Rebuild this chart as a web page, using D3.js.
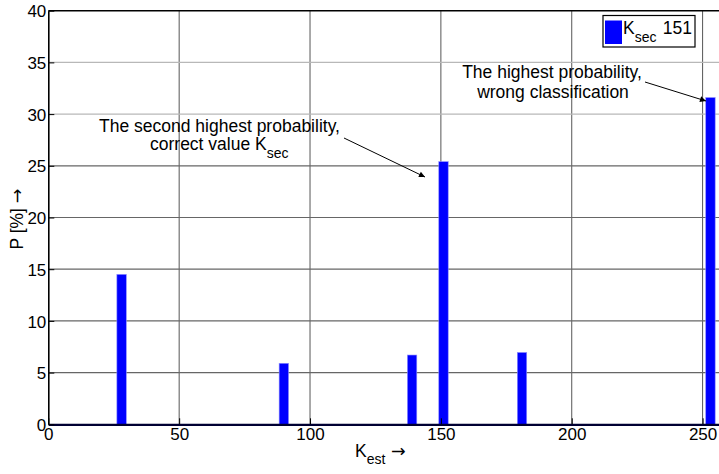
<!DOCTYPE html>
<html>
    <head>
        <meta charset="utf-8">
        <title>K_est histogram</title>
        <script type="text/javascript" src="https://d3js.org/d3.v7.min.js"></script>
        <style>
            body { margin: 0; background: #fff; }
            text { font-family: "Liberation Sans", Arial, Helvetica, sans-serif; fill: #000; }
            .arr { font-family: "DejaVu Sans", sans-serif; }
        </style>
    </head>
    <body>
        <script type="text/javascript">
            // data
            let kValues = [28, 90, 139, 151, 181, 253];
            let pValues = [14.5, 5.9, 6.7, 25.4, 6.95, 31.6];
            let xTicks = [0, 50, 100, 150, 200, 250];
            let yTicks = [0, 5, 10, 15, 20, 25, 30, 35, 40];
            let legendLabel = ['K', 'sec', '151'];

            let width = 719;
            let height = 474;
            let plotLeft = 48.3, plotTop = 10.7, plotBottom = 424.3;
            let barWidth = 3.6;
            let fs = 17.5;

            let svg = d3.select('body')
                .append('svg')
                .attr('width', width)
                .attr('height', height);

            let x = d3.scaleLinear().domain([0, 260]).range([plotLeft, plotLeft + 260 * 2.6172]);
            let y = d3.scaleLinear().domain([0, 40]).range([plotBottom, plotTop]);

            // grid
            svg.append('g').selectAll('line')
                .data(xTicks.slice(1))
                .enter()
                .append('line')
                    .attr('x1', d => x(d)).attr('x2', d => x(d))
                    .attr('y1', plotTop).attr('y2', plotBottom)
                    .attr('stroke', '#555')
                    .attr('stroke-width', 1);

            svg.append('g').selectAll('line')
                .data(yTicks.slice(1, -1))
                .enter()
                .append('line')
                    .attr('x1', plotLeft).attr('x2', width)
                    .attr('y1', d => y(d)).attr('y2', d => y(d))
                    .attr('stroke', d => d >= 30 ? '#b8b8b8' : '#666')
                    .attr('stroke-width', 1.2);

            // bars
            svg.append('g').selectAll('rect')
                .data(kValues)
                .enter()
                .append('rect')
                    .attr('x', d => x(d - barWidth / 2))
                    .attr('y', (d, i) => y(pValues[i]))
                    .attr('width', x(barWidth) - x(0))
                    .attr('height', (d, i) => y(0) - y(pValues[i]))
                    .attr('fill', '#0000ff')
                    .attr('stroke', '#8f8fff')
                    .attr('stroke-width', 0.6);

            // axes
            let xAxis = svg.append('g')
                .attr('transform', `translate(0,${plotBottom})`)
                .call(d3.axisBottom(x).tickValues(xTicks).tickSizeInner(-6).tickSizeOuter(0).tickPadding(4));
            xAxis.select('.domain').attr('stroke', '#000033').attr('stroke-width', 2.2);
            xAxis.selectAll('text').attr('font-size', 17).style('font-family', '"Liberation Sans", Arial, sans-serif');

            let yAxis = svg.append('g')
                .attr('transform', `translate(${plotLeft},0)`)
                .call(d3.axisLeft(y).tickValues(yTicks).tickSizeInner(-6).tickSizeOuter(0).tickPadding(2));
            yAxis.select('.domain').attr('stroke', '#000').attr('stroke-width', 1.6);
            yAxis.selectAll('text').attr('font-size', 17).attr('dy', '0.36em').style('font-family', '"Liberation Sans", Arial, sans-serif');

            svg.append('line')
                .attr('x1', plotLeft).attr('x2', width)
                .attr('y1', plotTop).attr('y2', plotTop)
                .attr('stroke', '#000').attr('stroke-width', 1.4);

            // axis labels
            let xl = svg.append('text')
                .attr('x', 355).attr('y', 457)
                .attr('font-size', fs);
            xl.append('tspan').text('K');
            xl.append('tspan').attr('dy', 7).attr('font-size', 14).text('est');
            xl.append('tspan').attr('dy', -7).attr('class', 'arr').text(' \u2192');

            let yl = svg.append('text')
                .attr('transform', 'translate(23,219) rotate(-90)')
                .attr('text-anchor', 'middle')
                .attr('font-size', fs);
            yl.append('tspan').text('P [%] ');
            yl.append('tspan').attr('class', 'arr').text('\u2192');

            // legend
            svg.append('rect')
                .attr('x', 603).attr('y', 15.5).attr('width', 92).attr('height', 31.5)
                .attr('fill', '#fff').attr('stroke', '#000').attr('stroke-width', 1.2);
            svg.append('rect')
                .attr('x', 605).attr('y', 20.5).attr('width', 17).attr('height', 23.5)
                .attr('fill', '#0000ff');
            let lg = svg.append('text')
                .attr('x', 623).attr('y', 34)
                .attr('font-size', fs);
            lg.append('tspan').text(legendLabel[0]);
            lg.append('tspan').attr('dy', 8).attr('font-size', 14).text(legendLabel[1]);
            svg.append('text')
                .attr('x', 692).attr('y', 34)
                .attr('text-anchor', 'end')
                .attr('font-size', fs)
                .text(legendLabel[2]);

            // annotations
            svg.append('defs').append('marker')
                .attr('id', 'arrow')
                .attr('viewBox', '0 0 10 10')
                .attr('refX', 10).attr('refY', 5)
                .attr('markerWidth', 9).attr('markerHeight', 6)
                .attr('markerUnits', 'userSpaceOnUse')
                .attr('orient', 'auto')
                .append('path')
                    .attr('d', 'M0,0L10,5L0,10z')
                    .attr('fill', '#000');

            let a1 = svg.append('text')
                .attr('text-anchor', 'middle')
                .attr('font-size', fs);
            a1.append('tspan').attr('x', 552).attr('y', 78).text('The highest probability,');
            a1.append('tspan').attr('x', 553).attr('y', 98).text('wrong classification');

            svg.append('line')
                .attr('x1', 645).attr('y1', 82).attr('x2', 706).attr('y2', 101)
                .attr('stroke', '#000').attr('stroke-width', 1)
                .attr('marker-end', 'url(#arrow)');

            svg.append('text')
                .attr('x', 219.5).attr('y', 132)
                .attr('text-anchor', 'middle')
                .attr('font-size', fs)
                .text('The second highest probability,');
            let a2 = svg.append('text')
                .attr('x', 150).attr('y', 150)
                .attr('font-size', fs);
            a2.append('tspan').text('correct value K');
            a2.append('tspan').attr('dy', 8).attr('font-size', 14).text('sec');

            svg.append('line')
                .attr('x1', 344).attr('y1', 138).attr('x2', 425).attr('y2', 177)
                .attr('stroke', '#000').attr('stroke-width', 1)
                .attr('marker-end', 'url(#arrow)');
        </script>
    </body>
</html>
